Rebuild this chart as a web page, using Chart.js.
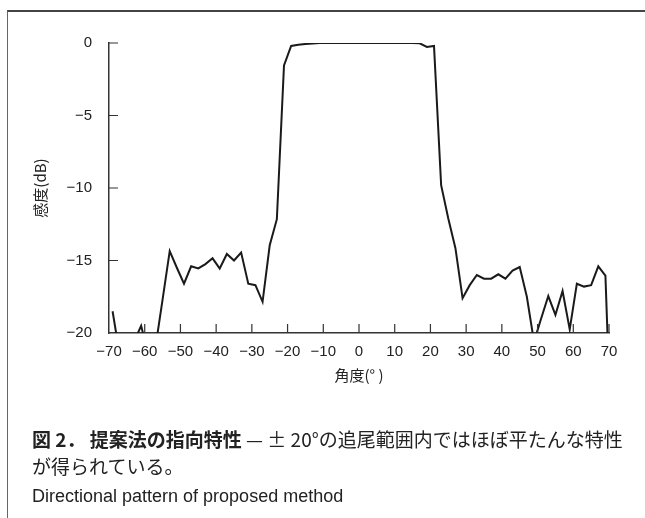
<!DOCTYPE html>
<html>
<head>
<meta charset="utf-8">
<script src="https://cdn.jsdelivr.net/npm/chart.js@4/dist/chart.umd.min.js"></script>
<style>
  html, body { margin: 0; padding: 0; background: #fff; }
  body { width: 645px; height: 518px; position: relative; overflow: hidden; }
  #frame { position: absolute; left: 7px; top: 10px; width: 700px; height: 600px;
           border-top: 2px solid #444; border-left: 1px solid #666; }
  #wrap { position: absolute; left: 0; top: 0; width: 645px; height: 518px; }
  .cap { position: absolute; left: 32px; font-family: "Noto Sans CJK JP", sans-serif;
         font-size: 19px; line-height: 24px; color: #222; white-space: nowrap; }
  .cap b { font-weight: bold; }
  #cap1 { top: 427px; }
  #cap2 { top: 454px; }
  #cap3 { top: 484px; font-family: "Liberation Sans", Arial, sans-serif; font-size: 18px; }
</style>
</head>
<body>
<div id="frame"></div>
<div id="wrap"><canvas id="chart-pattern"></canvas></div>
<div class="cap" id="cap1"><b>図 2． 提案法の指向特性</b> — ± 20°の追尾範囲内ではほぼ平たんな特性</div>
<div class="cap" id="cap2">が得られている。</div>
<div class="cap" id="cap3">Directional pattern of proposed method</div>
<script>
'use strict';

// angle (deg) of each measured point
var angles = [
  -69, -67, -65, -63, -61, -59, -57, -55, -53, -51,
  -49, -47, -45, -43, -41, -39, -37, -35, -33, -31,
  -29, -27, -25, -23, -21, -19, -17, -15, -13, -11,
  -9, -7, -5, -3, -1, 1, 3, 5, 7, 9,
  11, 13, 15, 17, 19, 21, 23, 25, 27, 29,
  31, 33, 35, 37, 39, 41, 43, 45, 47, 49,
  51, 53, 55, 57, 59, 61, 63, 65, 67, 69, 71
];

// sensitivity (dB)
var sensitivity = [
  -18.5, -21.5, -22, -20.6, -19.5, -21.5, -21, -17.7, -14.35, -15.5,
  -16.6, -15.4, -15.55, -15.25, -14.85, -15.55, -14.55, -15.0, -14.45, -16.6,
  -16.7, -17.85, -13.95, -12.15, -1.55, -0.2, -0.12, -0.07, -0.03, 0,
  0, 0, 0, 0, 0, 0, 0, 0, 0, 0,
  0, 0, 0, -0.02, -0.27, -0.2, -9.8, -12.1, -14.15, -17.6,
  -16.7, -16.0, -16.25, -16.25, -15.95, -16.25, -15.7, -15.45, -17.5, -20.6,
  -19.0, -17.45, -18.75, -17.1, -19.75, -16.6, -16.8, -16.7, -15.4, -16.05, -30
];

var xTicks = [-70, -60, -50, -40, -30, -20, -10, 0, 10, 20, 30, 40, 50, 60, 70];
var yTicks = [0, -5, -10, -15, -20];

var points = angles.map(function (a, i) { return { x: a, y: sensitivity[i] }; });

function fmt(v) {
  return v < 0 ? '\u2212' + Math.abs(v) : String(v);
}

// short tick marks drawn inward from the axes
var innerTicks = {
  id: 'innerTicks',
  afterDraw: function (chart) {
    var ctx = chart.ctx;
    var xs = chart.scales.x, ys = chart.scales.y;
    var area = chart.chartArea;
    ctx.save();
    ctx.strokeStyle = '#333';
    ctx.lineWidth = 1.2;
    ctx.beginPath();
    xTicks.forEach(function (v) {
      if (v === xs.min) return;
      var px = xs.getPixelForValue(v);
      ctx.moveTo(px, area.bottom);
      ctx.lineTo(px, area.bottom - 9);
    });
    yTicks.forEach(function (v) {
      if (v === ys.min) return;
      var py = ys.getPixelForValue(v);
      ctx.moveTo(area.left, py);
      ctx.lineTo(area.left + 9, py);
    });
    ctx.stroke();
    ctx.restore();
  }
};

var tickFont = { family: '"Liberation Sans", Arial, sans-serif', size: 15 };
var titleFont = { family: '"Noto Sans CJK JP", sans-serif', size: 15 };

new Chart(document.getElementById('chart-pattern'), {
  type: 'line',
  data: {
    datasets: [{
      data: points,
      borderColor: '#1a1a1a',
      borderWidth: 2,
      pointRadius: 0,
      tension: 0,
      fill: false
    }]
  },
  options: {
    responsive: true,
    maintainAspectRatio: false,
    animation: false,
    layout: {
      padding: { left: 27, top: 43, right: 36, bottom: 131 }
    },
    plugins: {
      legend: { display: false },
      tooltip: { enabled: false }
    },
    scales: {
      x: {
        type: 'linear',
        min: -70,
        max: 70,
        afterFit: function (s) { s.height = 54; },
        afterBuildTicks: function (s) {
          s.ticks = xTicks.map(function (v) { return { value: v }; });
        },
        grid: { display: false },
        border: { display: true, color: '#333', width: 1.5 },
        ticks: { color: '#222', font: tickFont, padding: 2, maxRotation: 0, callback: fmt },
        title: { display: true, text: '角度(° )', color: '#222', font: titleFont, padding: { top: 4, bottom: 3 } }
      },
      y: {
        min: -20,
        max: 0,
        afterFit: function (s) { s.width = 82; },
        afterBuildTicks: function (s) {
          s.ticks = yTicks.map(function (v) { return { value: v }; });
        },
        grid: { display: false },
        border: { display: true, color: '#333', width: 1.5 },
        ticks: { color: '#222', font: tickFont, padding: 9, callback: fmt },
        title: { display: true, text: '感度(dB)', color: '#222', font: titleFont, padding: { top: 4, bottom: 4 } }
      }
    }
  },
  plugins: [innerTicks]
});
</script>
</body>
</html>
